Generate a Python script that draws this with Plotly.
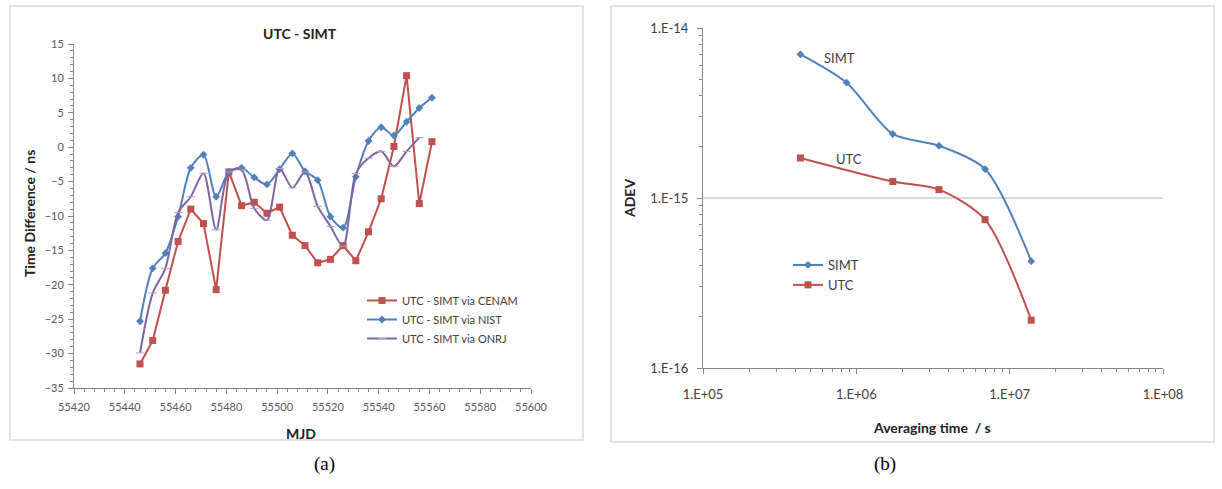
import plotly.graph_objects as go

# ---------------- data ----------------
mjd = [55446, 55451, 55456, 55461, 55466, 55471, 55476, 55481, 55486, 55491,
       55496, 55501, 55506, 55511, 55516, 55521, 55526, 55531, 55536, 55541,
       55546, 55551, 55556, 55561]
cenam = [-31.5, -28.1, -20.8, -13.7, -9.0, -11.1, -20.7, -3.6, -8.5, -8.0,
         -9.6, -8.7, -12.8, -14.3, -16.8, -16.3, -14.3, -16.5, -12.3, -7.5,
         0.1, 10.4, -8.2, 0.8]
nist = [-25.3, -17.6, -15.4, -10.1, -3.0, -1.1, -7.2, -3.6, -3.0, -4.4,
        -5.4, -3.2, -0.9, -3.5, -4.8, -10.1, -11.7, -4.3, 0.9, 2.9,
        1.7, 3.7, 5.7, 7.2]
mjd_onrj = mjd[:23]
onrj = [-29.9, -21.2, -17.6, -9.5, -7.2, -3.8, -12.0, -3.6, -3.3, -8.9,
        -10.6, -3.1, -5.9, -3.6, -8.6, -11.5, -14.4, -3.8, -1.6, -0.6,
        -2.8, -0.6, 1.4]

tau_simt = [432000, 864000, 1728000, 3456000, 6912000, 13824000]
adev_simt = [7.0e-15, 4.77e-15, 2.38e-15, 2.03e-15, 1.48e-15, 4.25e-16]
tau_utc = [432000, 1728000, 3456000, 6912000, 13824000]
adev_utc = [1.72e-15, 1.25e-15, 1.12e-15, 7.46e-16, 1.91e-16]

xt_log_vals = [1e5, 1e6, 1e7, 1e8]
xt_log_text = ["1.E+05", "1.E+06", "1.E+07", "1.E+08"]
yt_log_vals = [1e-16, 1e-15, 1e-14]
yt_log_text = ["1.E-16", "1.E-15", "1.E-14"]

# ---------------- layout helpers ----------------
W, H = 1222, 489
def px(x):
    return x / W
def py(y):
    return 1 - y / H

RED = "#C0504D"
BLUE = "#4F81BD"
PURPLE = "#8064A2"
FONT = "Lato"
AXC = "#868686"

fig = go.Figure()

fig.add_trace(go.Scatter(x=mjd, y=cenam, name="UTC - SIMT via CENAM", mode="lines+markers",
                         line=dict(color=RED, width=2), marker=dict(symbol="square", size=7, color=RED),
                         xaxis="x", yaxis="y", legend="legend"))
fig.add_trace(go.Scatter(x=mjd, y=nist, name="UTC - SIMT via NIST", mode="lines+markers",
                         line=dict(color=BLUE, width=2, shape="spline", smoothing=0.8),
                         marker=dict(symbol="diamond", size=6, color=BLUE),
                         xaxis="x", yaxis="y", legend="legend"))
fig.add_trace(go.Scatter(x=mjd_onrj, y=onrj, name="UTC - SIMT via ONRJ", mode="lines+markers",
                         line=dict(color=PURPLE, width=2, shape="spline", smoothing=0.8),
                         marker=dict(symbol="line-ew", size=6, color=PURPLE, line=dict(color="#B3A2C7", width=1)),
                         xaxis="x", yaxis="y", legend="legend"))

fig.add_trace(go.Scatter(x=tau_simt, y=adev_simt, name="SIMT", mode="lines+markers",
                         line=dict(color=BLUE, width=2, shape="spline", smoothing=0.8),
                         marker=dict(symbol="diamond", size=6, color=BLUE),
                         xaxis="x2", yaxis="y2", legend="legend2"))
fig.add_trace(go.Scatter(x=tau_utc, y=adev_utc, name="UTC", mode="lines+markers",
                         line=dict(color=RED, width=2, shape="spline", smoothing=0.8),
                         marker=dict(symbol="square", size=7, color=RED),
                         xaxis="x2", yaxis="y2", legend="legend2"))

minor_x_log = [m * 10 ** e for e in range(5, 8) for m in range(2, 10)]
minor_y_log = [m * 10.0 ** e for e in range(-16, -14) for m in range(2, 10)]


def ann(text, x, y, size, color="#202020", family=FONT, angle=0):
    return dict(text=text, xref="paper", yref="paper", x=px(x), y=py(y),
                xanchor="center", yanchor="middle", showarrow=False, textangle=angle,
                font=dict(size=size, color=color, family=family))


fig.update_layout(
    width=W, height=H, margin=dict(l=0, r=0, t=0, b=0),
    paper_bgcolor="white", plot_bgcolor="white",
    font=dict(family=FONT, color="#404040"),
    xaxis=dict(domain=[px(74), px(531)], anchor="y", range=[55420, 55600], dtick=20, tick0=55420,
               tickformat="d",
               showgrid=False, zeroline=False, showline=True, linecolor=AXC, linewidth=1,
               ticks="outside", ticklen=5, tickcolor=AXC, ticklabelstandoff=4,
               minor=dict(ticks="outside", dtick=4, ticklen=3, tickcolor=AXC),
               tickfont=dict(size=11, color="#595959"), automargin=False),
    yaxis=dict(domain=[py(388), py(44)], anchor="x", range=[-35, 15], dtick=5,
               showgrid=False, zeroline=False, showline=True, linecolor=AXC, linewidth=1,
               ticks="outside", ticklen=5, tickcolor=AXC, ticklabelstandoff=2,
               minor=dict(ticks="outside", dtick=1, ticklen=3, tickcolor=AXC),
               tickfont=dict(size=11, color="#595959"), automargin=False),
    xaxis2=dict(domain=[px(703), px(1163)], anchor="y2", type="log", range=[5, 8],
                tickvals=xt_log_vals, ticktext=xt_log_text,
                showgrid=False, zeroline=False, showline=True, linecolor=AXC, linewidth=1,
                ticks="outside", ticklen=5, tickcolor=AXC, ticklabelstandoff=9,
                minor=dict(ticks="outside", tickvals=minor_x_log, ticklen=3, tickcolor=AXC),
                tickfont=dict(size=13, color="#404040"), automargin=False),
    yaxis2=dict(domain=[py(368), py(28)], anchor="x2", type="log", range=[-16, -14],
                tickvals=yt_log_vals, ticktext=yt_log_text,
                showgrid=True, gridcolor="#D9D9D9", gridwidth=1.5,
                zeroline=False, showline=True, linecolor=AXC, linewidth=1,
                ticks="outside", ticklen=5, tickcolor=AXC, ticklabelstandoff=6,
                minor=dict(ticks="outside", tickvals=minor_y_log, ticklen=3, tickcolor=AXC),
                tickfont=dict(size=13, color="#404040"), automargin=False),
    legend=dict(x=px(362), y=py(286), xanchor="left", yanchor="top", bgcolor="rgba(0,0,0,0)",
                font=dict(size=11, color="#404040"), tracegroupgap=0, itemwidth=30),
    legend2=dict(x=px(788), y=py(250), xanchor="left", yanchor="top", bgcolor="rgba(0,0,0,0)",
                 font=dict(size=13, color="#404040"), tracegroupgap=0, itemwidth=30),
    shapes=[
        dict(type="rect", xref="paper", yref="paper", x0=px(10), x1=px(583), y0=py(440), y1=py(6),
             line=dict(color="#D9D9D9", width=1.5)),
        dict(type="rect", xref="paper", yref="paper", x0=px(611), x1=px(1214), y0=py(442), y1=py(6),
             line=dict(color="#D9D9D9", width=1.5)),
    ],
    annotations=[
        ann("<b>UTC - SIMT</b>", 300, 33, 14),
        ann("<b>Time Difference / ns</b>", 29, 214, 14, angle=-90),
        ann("<b>MJD</b>", 301, 433, 14),
        ann("<b>ADEV</b>", 630, 199, 14, angle=-90),
        ann("<b>Averaging time  / s</b>", 932, 427, 14),
        ann("SIMT", 839, 58, 13, color="#404040"),
        ann("UTC", 849, 159, 13, color="#404040"),
        ann("(a)", 324, 464, 19, color="black", family="Liberation Serif"),
        ann("(b)", 885, 464, 19, color="black", family="Liberation Serif"),
    ],
)

fig.write_html("out.html", config={"displayModeBar": False},
               post_script="document.body.style.margin='0';document.body.style.overflow='hidden';")
